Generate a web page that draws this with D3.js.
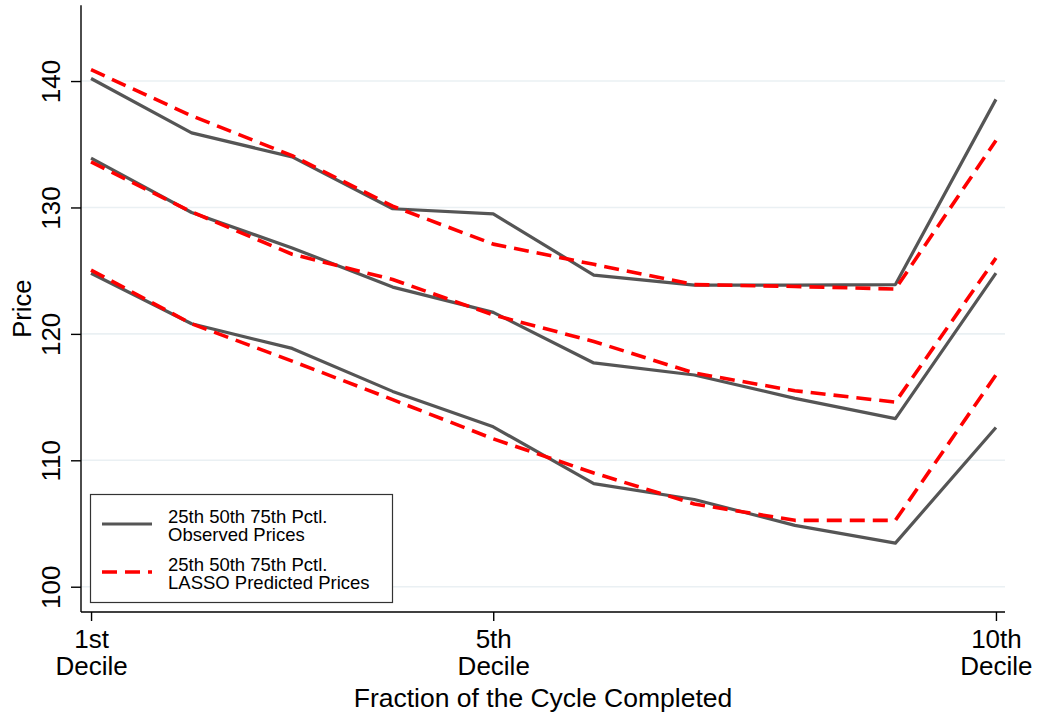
<!DOCTYPE html>
<html>
<head>
<meta charset="utf-8">
<script src="https://cdn.jsdelivr.net/npm/d3@7"></script>
<style>
  html, body { margin: 0; padding: 0; background: #fff; }
  svg { display: block; font-family: "Liberation Sans", Arial, Helvetica, sans-serif; }
</style>
</head>
<body>
<svg id="chart" width="1037" height="717"></svg>
<script>
// ---- data ----
const deciles = [1, 2, 3, 4, 5, 6, 7, 8, 9, 10];
const xTickValues = [1, 5, 10];
const xTickLabels = [["1st", "Decile"], ["5th", "Decile"], ["10th", "Decile"]];
const yTickValues = [100, 110, 120, 130, 140];

const obs25  = [124.8, 120.8, 118.85, 115.45, 112.65, 108.15, 106.9, 104.85, 103.45, 112.6];
const obs50  = [133.9, 129.6, 126.8, 123.7, 121.7, 117.7, 116.75, 114.9, 113.3, 124.8];
const obs75  = [140.2, 135.9, 134.0, 129.9, 129.5, 124.65, 123.85, 123.85, 123.9, 138.55];
const pred25 = [125.05, 120.8, 117.85, 114.8, 111.7, 109.0, 106.55, 105.25, 105.25, 116.75];
const pred50 = [133.6, 129.65, 126.3, 124.3, 121.5, 119.4, 116.9, 115.5, 114.6, 126.0];
const pred75 = [140.9, 137.25, 134.1, 130.1, 127.1, 125.5, 123.9, 123.75, 123.55, 135.3];

const legendItems = [
  { lines: ["25th 50th 75th Pctl.", "Observed Prices"], kind: "obs" },
  { lines: ["25th 50th 75th Pctl.", "LASSO Predicted Prices"], kind: "pred" }
];

// ---- styles ----
const obsColor = "#555555", predColor = "#ff0000";
const obsWidth = 3.2, predWidth = 3.6, predDash = "15,8";
const fontFam = "Liberation Sans, Arial, Helvetica, sans-serif";

const svg = d3.select("#chart");
const x = d3.scaleLinear().domain([0.9, 10.09]).range([81, 1005]);
const y = d3.scaleLinear().domain([98, 146]).range([612, 5.2]);

// gridlines
svg.append("g").selectAll("line").data(yTickValues).join("line")
  .attr("x1", x.range()[0]).attr("x2", x.range()[1])
  .attr("y1", d => y(d)).attr("y2", d => y(d))
  .attr("stroke", "#eaf0f3").attr("stroke-width", 1.6);

// y axis
const yAxis = svg.append("g").attr("transform", `translate(${x.range()[0]},0)`)
  .call(d3.axisLeft(y).tickValues(yTickValues).tickSize(10).tickPadding(0).tickFormat(d3.format("d")));
yAxis.select(".domain").attr("d", `M0,${y.range()[1]}V${y.range()[0]}`).attr("stroke", "#000").attr("stroke-width", 1.4);
yAxis.selectAll(".tick line").attr("stroke", "#000").attr("stroke-width", 1.4);
yAxis.selectAll(".tick text")
  .attr("x", 0).attr("y", 0).attr("dy", 0)
  .attr("transform", "translate(-21,0) rotate(-90)")
  .attr("text-anchor", "middle")
  .attr("font-size", 26).attr("fill", "#000")
  .attr("font-family", fontFam);

// x axis
const xAxis = svg.append("g").attr("transform", `translate(0,${y.range()[0]})`)
  .call(d3.axisBottom(x).tickValues(xTickValues).tickSize(9).tickFormat(""));
xAxis.select(".domain").attr("d", `M${x.range()[0]},0H${x.range()[1]}`).attr("stroke", "#000").attr("stroke-width", 1.4);
xAxis.selectAll(".tick line").attr("stroke", "#000").attr("stroke-width", 1.4);
xAxis.selectAll(".tick text").remove();
xAxis.selectAll(".tick").each(function(d, i) {
  const t = d3.select(this).append("text")
    .attr("text-anchor", "middle").attr("fill", "#000").attr("font-size", 26)
    .attr("font-family", fontFam);
  xTickLabels[i].forEach((s, k) => t.append("tspan").attr("x", 0).attr("y", 36 + k * 27).text(s));
});

// axis titles
svg.append("text").attr("x", 543).attr("y", 707).attr("text-anchor", "middle")
  .attr("font-size", 26.5).attr("fill", "#000").text("Fraction of the Cycle Completed");
svg.append("text").attr("transform", `translate(31,${(y.range()[0] + y.range()[1]) / 2}) rotate(-90)`)
  .attr("text-anchor", "middle").attr("font-size", 25.5).attr("fill", "#000").text("Price");

// lines
const line = d3.line().x((d, i) => x(deciles[i])).y(d => y(d));
const gLines = svg.append("g").attr("fill", "none").attr("stroke-linejoin", "round");
[obs25, obs50, obs75].forEach(s => gLines.append("path").attr("d", line(s))
  .attr("stroke", obsColor).attr("stroke-width", obsWidth));
[pred25, pred50, pred75].forEach(s => gLines.append("path").attr("d", line(s))
  .attr("stroke", predColor).attr("stroke-width", predWidth).attr("stroke-dasharray", predDash));

// legend
const lg = svg.append("g");
lg.append("rect").attr("x", 90.5).attr("y", 494.5).attr("width", 302).attr("height", 108)
  .attr("fill", "#fff").attr("stroke", "#333").attr("stroke-width", 1.2);
legendItems.forEach((it, i) => {
  const cy = 524 + i * 48;
  lg.append("line").attr("x1", 102).attr("x2", 152).attr("y1", cy).attr("y2", cy)
    .attr("stroke", it.kind === "obs" ? obsColor : predColor)
    .attr("stroke-width", it.kind === "obs" ? obsWidth : predWidth)
    .attr("stroke-dasharray", it.kind === "obs" ? null : predDash);
  it.lines.forEach((s, k) => lg.append("text").attr("font-size", 18.5).attr("fill", "#000")
    .attr("x", 168).attr("y", cy - 1 + k * 18).text(s));
});
</script>
</body>
</html>
